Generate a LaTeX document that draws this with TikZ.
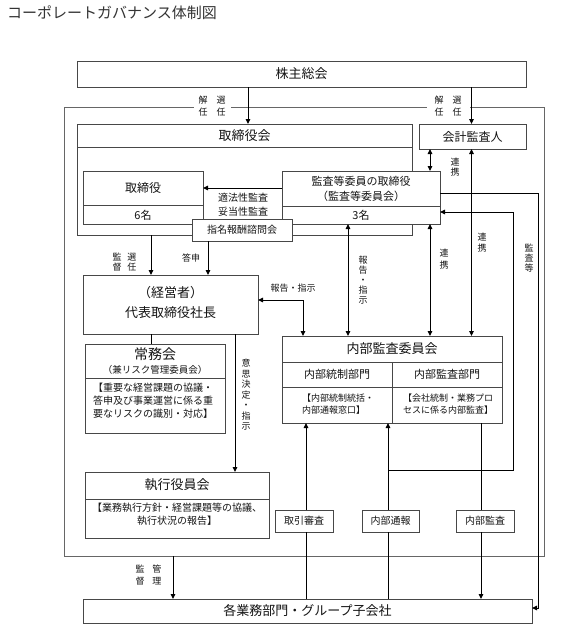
\documentclass[tikz,border=0pt]{standalone}
\usepackage{fontspec}
\newfontfamily\jp{Noto Sans CJK JP}
\usetikzlibrary{arrows.meta}
\newcommand\Bx[5]{\node[box, minimum width={(#4)-(#2)}, minimum height={(#5)-(#3)}] (#1) at (#2,#3) {};}
\begin{document}
\begin{tikzpicture}[x=1pt,y=-1pt,
  box/.style={draw=black!72, line width=0.8pt, fill=white, inner sep=0pt, outer sep=0pt, anchor=north west},
  framebox/.style={draw=black!60, line width=0.8pt, inner sep=0pt, outer sep=0pt, anchor=north west},
  div/.style={draw=black!72, line width=0.8pt},
  conn/.style={draw=black, line width=1pt},
  arr/.style={conn, -{Triangle[length=5pt,width=4.5pt]}},
  arrb/.style={conn, {Triangle[length=5pt,width=4.5pt]}-{Triangle[length=5pt,width=4.5pt]}},
  tx/.style={inner sep=0pt, text=black!92},
  s15/.style={tx, font=\jp\fontsize{15pt}{18pt}\selectfont},
  s14/.style={tx, font=\jp\fontsize{14pt}{17pt}\selectfont},
  s13/.style={tx, font=\jp\fontsize{13pt}{16pt}\selectfont},
  s12/.style={tx, font=\jp\fontsize{12pt}{15pt}\selectfont},
  s11/.style={tx, font=\jp\fontsize{11pt}{14pt}\selectfont},
  s10/.style={tx, font=\jp\fontsize{10pt}{13pt}\selectfont},
  s9/.style={tx, font=\jp\fontsize{9pt}{12.5pt}\selectfont},
  vtx/.style={tx, align=center, font=\jp\fontsize{9pt}{10pt}\selectfont},
]
\useasboundingbox (0,0) rectangle (575,634);

% title
\node[s15, anchor=west, text=black!80] (title) at (7,13) {コーポレートガバナンス体制図};

% outer frame
\node[framebox, minimum width=480, minimum height=449] (outer) at (64,107) {};
\node[tx, fill=white, inner xsep=5pt, inner ysep=1pt, align=center, font=\jp\fontsize{9pt}{12pt}\selectfont] (kaisen1) at (212,106) {解\hspace{9pt}選\\任\hspace{9pt}任};
\node[tx, fill=white, inner xsep=8pt, inner ysep=1pt, align=center, font=\jp\fontsize{9pt}{12pt}\selectfont] (kaisen2) at (448,106) {解\hspace{9pt}選\\任\hspace{9pt}任};

% boxes
\Bx{kabu}{77}{61}{526}{87}
\Bx{tkai}{77}{124}{412}{235}
\draw[div] ([yshift=-23pt]tkai.north west) -- ([yshift=-23pt]tkai.north east);
\Bx{kaikei}{419}{124}{526}{149}
\Bx{tori}{83}{171}{203}{224}
\draw[div] ([yshift=-34pt]tori.north west) -- ([yshift=-34pt]tori.north east);
\Bx{kansa}{282}{171}{440}{224}
\draw[div] ([yshift=-35pt]kansa.north west) -- ([yshift=-35pt]kansa.north east);
\Bx{shimei}{192}{219}{292}{241}
\Bx{ceo}{83}{275}{258}{334}
\Bx{jomu}{85}{344}{225}{433}
\draw[div] ([yshift=-34pt]jomu.north west) -- ([yshift=-34pt]jomu.north east);
\Bx{shikko}{85}{472}{269}{538}
\draw[div] ([yshift=-27pt]shikko.north west) -- ([yshift=-27pt]shikko.north east);
\Bx{naibu}{282}{336}{502}{423}
\draw[div] ([yshift=-26pt]naibu.north west) -- ([yshift=-26pt]naibu.north east);
\draw[div] ([yshift=-51pt]naibu.north west) -- ([yshift=-51pt]naibu.north east);
\draw[div] ([xshift=110pt,yshift=-26pt]naibu.north west) -- ([xshift=110pt]naibu.south west);
\Bx{torihiki}{275}{510}{333}{532}
\Bx{tsuho}{362}{510}{419}{532}
\Bx{naikan}{456}{510}{514}{532}
\Bx{kaku}{83}{599}{532}{623}

% texts
\node[s13] (tkabu) at (kabu.center) {株主総会};
\node[s13] (ttkai) at (244.5,135.5) {取締役会};
\node[s12] (tkaikei) at (kaikei.center) {会計監査人};
\node[s12] (ttori) at (143,188) {取締役};
\node[s11] (ttori2) at (143,215) {6名};
\node[s11] (tkansa1) at (361,181) {監査等委員の取締役};
\node[s11] (tkansa2) at (361,196) {（監査等委員会）};
\node[s11] (tkansa3) at (361,215) {3名};
\node[s10] (tshimei) at (shimei.center) {指名報酬諮問会};
\node[s10] (ttekiho) at (243,198) {適法性監査};
\node[s10] (tdato) at (243,212) {妥当性監査};
\node[s13] (tceo1) at (170.5,293) {（経営者）};
\node[s13] (tceo2) at (170.5,313) {代表取締役社長};
\node[s14] (tjomu1) at (155,354) {常務会};
\node[tx, font=\jp\fontsize{9.5pt}{12pt}\selectfont] (tjomu2) at (155,370) {（兼リスク管理委員会）};
\node[s10, align=left, anchor=west] (tjomu3) at (93,401) {【重要な経営課題の協議・\\答申及び事業運営に係る重\\要なリスクの識別・対応】};
\node[s13] (tshikko1) at (177,485) {執行役員会};
\node[s10, align=center] (tshikko2) at (177,514.5) {【業務執行方針・経営課題等の協議、\\執行状況の報告】};
\node[s13] (tnaibu1) at (392,349) {内部監査委員会};
\node[s11] (tnaibu2) at (337,374.5) {内部統制部門};
\node[s11] (tnaibu3) at (447,374.5) {内部監査部門};
\node[s9, align=left] (tnaibu4) at (338,404) {【内部統制統括・\\内部通報窓口】};
\node[s9, align=left] (tnaibu5) at (448,404) {【会社統制・業務プロ\\セスに係る内部監査】};
\node[s10] (ttorihiki) at (torihiki.center) {取引審査};
\node[s10] (ttsuho) at (tsuho.center) {内部通報};
\node[s10] (tnaikan) at (naikan.center) {内部監査};
\node[s13] (tkaku) at (kaku.center) {各業務部門・グループ子会社};

% connector labels
\node[tx, align=center, font=\jp\fontsize{9pt}{10pt}\selectfont] (lkantoku1) at (124.5,262) {監\hspace{6pt}選\\督\hspace{6pt}任};
\node[s9] (ltoshin) at (191,258) {答申};
\node[s9] (lhokoku1) at (293,288) {報告・指示};
\node[vtx] (lhokoku2) at (363,280) {報\\告\\・\\指\\示};
\node[tx, align=center, font=\jp\fontsize{9pt}{10.5pt}\selectfont] (lishi) at (246,395) {意\\思\\決\\定\\・\\指\\示};
\node[vtx] (lrenkei1) at (455,167) {連\\携};
\node[vtx, font=\jp\fontsize{9pt}{12pt}\selectfont] (lrenkei2) at (444,259) {連\\携};
\node[vtx, font=\jp\fontsize{9pt}{11pt}\selectfont] (lrenkei3) at (482,243) {連\\携};
\node[vtx] (lkansa) at (529,258) {監\\査\\等};
\node[tx, align=center, font=\jp\fontsize{9pt}{12pt}\selectfont] (lkantoku2) at (148.5,575.5) {監\hspace{8pt}管\\督\hspace{8pt}理};

% x / y guide coordinates
\coordinate (xA) at (248,0);
\coordinate (xB) at (471.5,0);
\coordinate (xC) at (430,0);
\coordinate (yC) at (0,188);
\coordinate (xD) at (151,0);
\coordinate (xE) at (208,0);
\coordinate (xF) at (235,0);
\coordinate (yG) at (0,300);
\coordinate (xG) at (303,0);
\coordinate (xH) at (348,0);
\coordinate (yM) at (0,193);
\coordinate (xM) at (538,0);
\coordinate (yM2) at (0,608);
\coordinate (xN) at (388,0);
\coordinate (yN) at (0,470);
\coordinate (xN2) at (513,0);
\coordinate (yN2) at (0,212);
\coordinate (xO) at (306,0);
\coordinate (xP) at (481,0);
\coordinate (xQ) at (173,0);

% connectors
\draw[arr] (kabu.south -| xA) -- (tkai.north -| xA);
\draw[arr] (kabu.south -| xB) -- (kaikei.north -| xB);
\draw[arr] (kansa.west |- yC) -- (tori.east |- yC);
\draw[arrb] (kaikei.south -| xC) -- (kansa.north -| xC);
\draw[arr] (tkai.south -| xD) -- (ceo.north -| xD);
\draw[arr] (shimei.south -| xE) -- (ceo.north -| xE);
\draw[conn] (ceo.south -| xD) -- (jomu.north -| xD);
\draw[arr] (ceo.south -| xF) -- (shikko.north -| xF);
\draw[arrb] (ceo.east |- yG) -| (naibu.north -| xG);
\draw[arrb] (kansa.south -| xH) -- (naibu.north -| xH);
\draw[arrb] (kansa.south -| xC) -- (naibu.north -| xC);
\draw[arrb] (kaikei.south -| xB) -- (naibu.north -| xB);
\draw[arr] (kansa.east |- yM) -| (xM |- yM2) -- (kaku.east |- yM2);
\draw[conn] (kaku.north -| xO) -- (torihiki.south -| xO);
\draw[arr] (torihiki.north -| xO) -- (naibu.south -| xO);
\draw[conn] (kaku.north -| xN) -- (tsuho.south -| xN);
\draw[arr] (tsuho.north -| xN) -- (naibu.south -| xN);
\coordinate (br) at (xN |- yN);
\draw[arr] (br) -| (xN2 |- yN2) -- (kansa.east |- yN2);
\draw[conn] (naibu.south -| xP) -- (naikan.north -| xP);
\draw[arr] (naikan.south -| xP) -- (kaku.north -| xP);
\draw[arr] (outer.south -| xQ) -- (kaku.north -| xQ);
\end{tikzpicture}
\end{document}
